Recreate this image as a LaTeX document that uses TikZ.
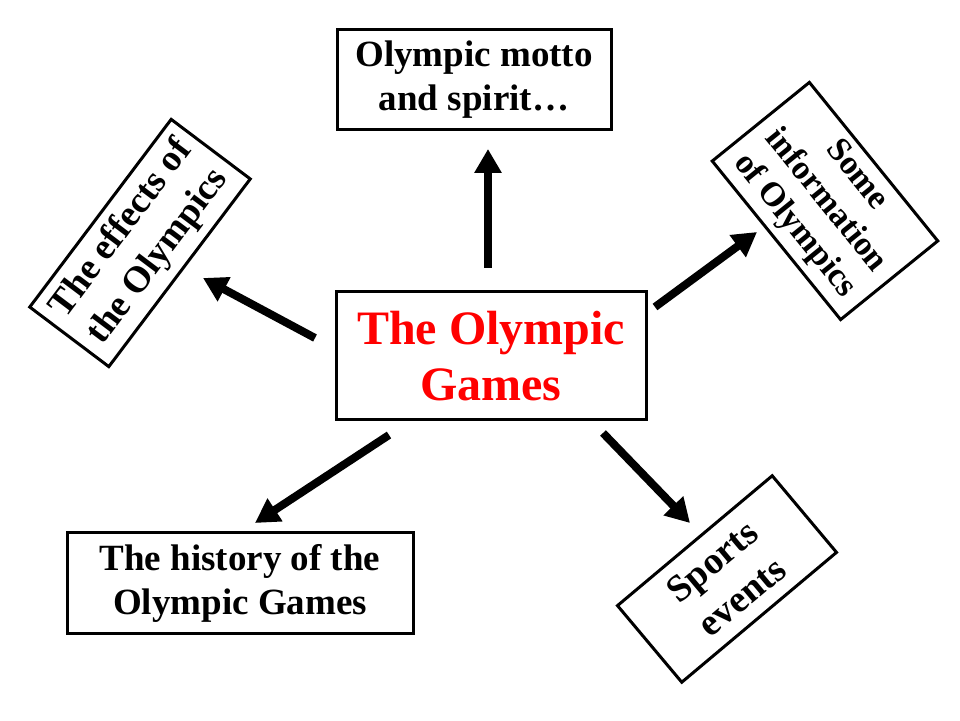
\documentclass[tikz,border=0pt]{standalone}
\usepackage{fontspec}
\setmainfont{Liberation Serif}
\usetikzlibrary{arrows.meta}
\begin{document}
\begin{tikzpicture}[x=1pt,y=1pt,
  box/.style={draw, line width=3pt, inner sep=0pt, align=center,
    font=\bfseries\fontsize{37}{44}\selectfont},
  arr/.style={line width=8pt, -{Triangle[length=24pt,width=26pt]}}]
\useasboundingbox (0,0) rectangle (960,720);
\fill[white] (0,0) rectangle (960,720);
% nodes
\node[box, minimum width=310pt, minimum height=128pt, text=red,
  font=\bfseries\fontsize{48}{56}\selectfont] (c) at (491,364) {The Olympic\\Games};
\node[box, minimum width=274pt, minimum height=100pt] (top) at (474,640) {Olympic motto\\and spirit\ldots};
\node[box, minimum width=346pt, minimum height=100pt] (hist) at (240,137) {The history of the\\Olympic Games};
\node[box, minimum width=235pt, minimum height=99pt, rotate=53,
  font=\bfseries\fontsize{37}{46}\selectfont] (eff) at (140,477) {The effects of\\the Olympics};
\node[box, minimum width=204pt, minimum height=125pt, rotate=-51,
  font=\bfseries\fontsize{34}{40}\selectfont] (info) at (825,519) {Some\\information\\of Olympics};
\node[box, minimum width=202pt, minimum height=100pt, rotate=40,
  font=\bfseries\fontsize{38}{46}\selectfont] (sport) at (727,141) {Sports\\events};
% arrow ends
\coordinate (sUp) at (488,452);   \coordinate (tUp) at (488,571);
\coordinate (sL) at (315,382);    \coordinate (tL) at (203,442);
\coordinate (sBL) at (389,285);   \coordinate (tBL) at (255,197);
\coordinate (sBR) at (603,287);   \coordinate (tBR) at (690,197);
\coordinate (sR) at (655,413);    \coordinate (tR) at (757,488);
\draw[arr] (sUp) -- (tUp);
\draw[arr] (sL) -- (tL);
\draw[arr] (sBL) -- (tBL);
\draw[arr] (sBR) -- (tBR);
\draw[arr] (sR) -- (tR);
\end{tikzpicture}
\end{document}
